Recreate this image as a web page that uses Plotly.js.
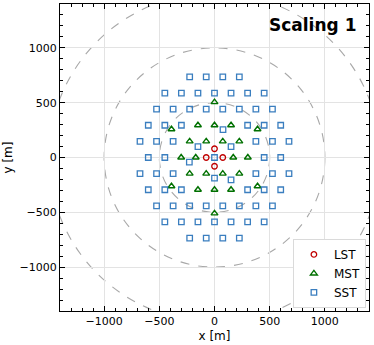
<!DOCTYPE html>
<html>
<head>
<meta charset="utf-8">
<script src="https://cdn.plot.ly/plotly-3.0.1.min.js"></script>
<style>
  html, body { margin: 0; padding: 0; background: #fff; }
  #chart { width: 374px; height: 345px; }
</style>
</head>
<body>
<div id="chart"></div>
<script>
// telescope positions (metres)
const lstX = [0, -75, 75, 0]
const lstY = [80, 0, 0, -80]

const mstX = [0, -150, 0, 150, -390, 390, -225, -75, 75, 225, -302, -170, 170, 302,
  -225, -75, 75, 225, -390, 390, -150, 0, 150, 0]
const mstY = [505, 294, 294, 294, 258, 258, 147, 147, 147, 147, 0, 0, 0, 0,
  -147, -147, -147, -147, -262, -262, -294, -294, -294, -510]

const sstX = [
  -225, -75, 75, 225,
  -450, -300, -150, 0, 150, 300, 450,
  -525, -375, -225, -75, 75, 225, 375, 525,
  -600, -450, -300, 300, 450, 600,
  -675, -525, -375, 375, 525, 675,
  -600, -450, 450, 600,
  -675, -525, -375, 375, 525, 675,
  -600, -450, -300, 300, 450, 600,
  -525, -375, -225, -75, 75, 225, 375, 525,
  -450, -300, -150, 0, 150, 300, 450,
  -225, -75, 75, 225,
  77, -150, 150, 0, -228, 0, 150
]
const sstY = [
  735, 735, 735, 735,
  588, 588, 588, 588, 588, 588, 588,
  441, 441, 441, 441, 441, 441, 441, 441,
  294, 294, 294, 294, 294, 294,
  147, 147, 147, 147, 147, 147,
  0, 0, 0, 0,
  -147, -147, -147, -147, -147, -147,
  -294, -294, -294, -294, -294, -294,
  -441, -441, -441, -441, -441, -441, -441, -441,
  -588, -588, -588, -588, -588, -588, -588,
  -735, -735, -735, -735,
  255, 100, 100, 0, -43, -188, -204
]

const ringRadii = [500, 1000, 1500]
const axisRange = [-1400, 1400]
const tickVals = [-1000, -500, 0, 500, 1000]

const font = "DejaVu Sans, sans-serif"

const traces = [
  { name: "LST", x: lstX, y: lstY, mode: "markers", type: "scatter",
    marker: { symbol: "circle-open", size: 5.5, color: "#c00000", line: { width: 1.3 } } },
  { name: "MST", x: mstX, y: mstY, mode: "markers", type: "scatter",
    marker: { symbol: "triangle-up-open", size: 6, color: "#007000", line: { width: 1.4 } } },
  { name: "SST", x: sstX, y: sstY, mode: "markers", type: "scatter",
    marker: { symbol: "square-open", size: 5.5, color: "#3a7ebf", line: { width: 1.3 } } },
]

const rings = ringRadii.map(r => ({
  type: "circle", xref: "x", yref: "y", layer: "below",
  x0: -r, x1: r, y0: -r, y1: r,
  line: { color: "#a8a8a8", width: 1.1, dash: "dash" },
}))

const axis = label => ({
  range: axisRange,
  tickvals: tickVals,
  ticks: "inside", ticklen: 5, tickwidth: 1, tickcolor: "#000",
  minor: { ticks: "inside", dtick: 100, ticklen: 3, tickcolor: "#000", showgrid: false },
  mirror: "ticks", showline: true, linecolor: "#000", linewidth: 1,
  showgrid: true, gridcolor: "#e3e3e3", gridwidth: 1,
  zeroline: false,
  tickfont: { family: font, size: 11, color: "#000" },
  title: { text: label, font: { family: font, size: 12, color: "#000" }, standoff: 4 },
})

const layout = {
  width: 374, height: 345,
  margin: { l: 60, r: 5, t: 4, b: 34 },
  paper_bgcolor: "#fff", plot_bgcolor: "#fff",
  xaxis: axis("x [m]"),
  yaxis: axis("y [m]"),
  shapes: rings,
  showlegend: true,
  legend: {
    x: 0.99, y: 0.01, xanchor: "right", yanchor: "bottom",
    bgcolor: "#fff", bordercolor: "#dadada", borderwidth: 1,
    font: { family: font, size: 12, color: "#000" },
  },
  annotations: [{
    text: "<b>Scaling 1</b>", xref: "paper", yref: "paper",
    x: 0.965, y: 0.93, xanchor: "right", yanchor: "middle", showarrow: false,
    font: { family: font, size: 17, color: "#000" },
  }],
}

Plotly.newPlot("chart", traces, layout, { displayModeBar: false, staticPlot: true })
</script>
</body>
</html>
